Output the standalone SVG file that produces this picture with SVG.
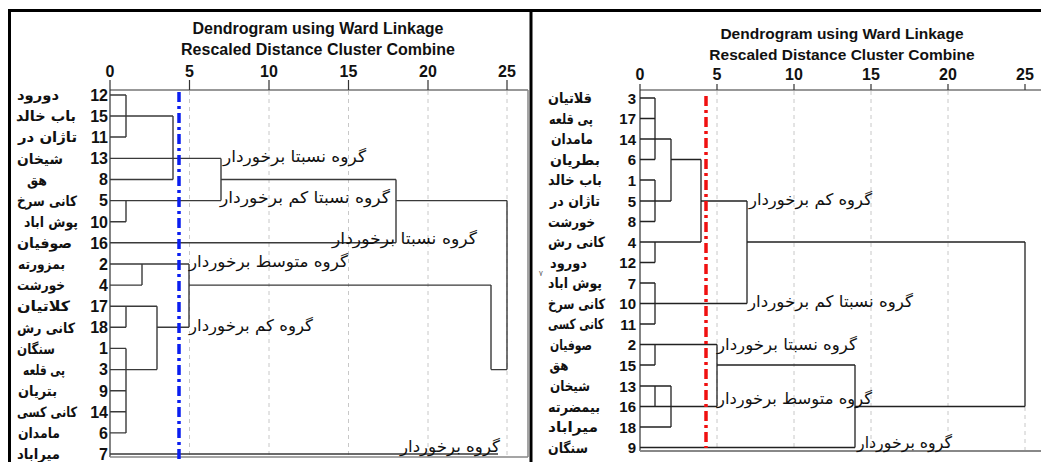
<svg xmlns="http://www.w3.org/2000/svg" width="1041" height="462" viewBox="0 0 1041 462">
<style>
.ttl{font-family:"Liberation Sans",Arial,sans-serif;font-weight:bold;font-size:16px;fill:#111;text-anchor:middle}
.ttr{font-family:"Liberation Sans",Arial,sans-serif;font-weight:bold;font-size:15.5px;fill:#111;text-anchor:middle}
.tick{font-family:"Liberation Sans",Arial,sans-serif;font-weight:bold;font-size:16px;fill:#111;text-anchor:middle}
.num{font-family:"Liberation Sans",Arial,sans-serif;font-weight:bold;font-size:16px;fill:#111;text-anchor:end}
.numr{font-family:"Liberation Sans",Arial,sans-serif;font-weight:bold;font-size:15px;fill:#111;text-anchor:end}
.nm{font-family:"DejaVu Sans",sans-serif;font-weight:bold;font-size:14px;fill:#111;text-anchor:middle}
.grp{font-family:"DejaVu Sans",sans-serif;font-size:16px;fill:#111;text-anchor:middle}
.frame{stroke:#000;stroke-width:3;fill:none}
.axis{stroke:#333;stroke-width:1.2;fill:none}
.pb{stroke:#888;stroke-width:1.5;fill:none}
.grid{stroke:#c8c8c8;stroke-width:1;stroke-dasharray:4 4;fill:none}
.dl{stroke:#3a3a3a;stroke-width:1.4;fill:none}
.dr{stroke:#222;stroke-width:1.3;fill:none}
</style>
<rect x="0" y="0" width="1041" height="462" fill="#fff"/>
<g id="frame">
<path class="frame" d="M8,10.5 H1041 M9.5,10 V462 M531,10 V462"/>
</g>
<g id="left-axes">
<text class="ttl" x="318" y="34">Dendrogram using Ward Linkage</text>
<text class="ttl" x="318" y="55">Rescaled Distance Cluster Combine</text>
<text class="tick" x="110" y="77">0</text>
<text class="tick" x="189.5" y="77">5</text>
<text class="tick" x="269" y="77">10</text>
<text class="tick" x="348.5" y="77">15</text>
<text class="tick" x="428" y="77">20</text>
<text class="tick" x="507" y="77">25</text>
<path class="grid" d="M189.5,91 V457 M269,91 V457 M348.5,91 V457 M428,91 V457 M507,91 V457"/>
<path class="axis" d="M110,90 H528 M110,80 V457 M189.5,80 V90 M269,80 V90 M348.5,80 V90 M428,80 V90 M507,80 V90"/>
<path class="pb" d="M528,90 V457 M110,457 H528"/>
</g>
<g id="left-rows">
<text class="num" x="108" y="100.5">12</text>
<text class="num" x="108" y="121.5">15</text>
<text class="num" x="108" y="142.5">11</text>
<text class="num" x="108" y="164">13</text>
<text class="num" x="108" y="185">8</text>
<text class="num" x="108" y="206">5</text>
<text class="num" x="108" y="227.5">10</text>
<text class="num" x="108" y="248.5">16</text>
<text class="num" x="108" y="269.5">2</text>
<text class="num" x="108" y="290.5">4</text>
<text class="num" x="108" y="311.5">17</text>
<text class="num" x="108" y="333">18</text>
<text class="num" x="108" y="354">1</text>
<text class="num" x="108" y="375">3</text>
<text class="num" x="108" y="396.5">9</text>
<text class="num" x="108" y="417.5">14</text>
<text class="num" x="108" y="438.5">6</text>
<text class="num" x="108" y="459.5">7</text>
<text class="nm" x="38" y="100" textLength="42" lengthAdjust="spacingAndGlyphs">دورود</text>
<text class="nm" x="46" y="121" textLength="60" lengthAdjust="spacingAndGlyphs">باب خالد</text>
<text class="nm" x="47.5" y="142" textLength="59" lengthAdjust="spacingAndGlyphs">تاژان در</text>
<text class="nm" x="40" y="163.5" textLength="46" lengthAdjust="spacingAndGlyphs">شیخان</text>
<text class="nm" x="37" y="184.5" textLength="20" lengthAdjust="spacingAndGlyphs">هق</text>
<text class="nm" x="47" y="205.5" textLength="60" lengthAdjust="spacingAndGlyphs">کانی سرخ</text>
<text class="nm" x="51" y="227" textLength="54" lengthAdjust="spacingAndGlyphs">پوش اباد</text>
<text class="nm" x="44.5" y="248" textLength="55" lengthAdjust="spacingAndGlyphs">صوفیان</text>
<text class="nm" x="41.5" y="269" textLength="47" lengthAdjust="spacingAndGlyphs">بمزورته</text>
<text class="nm" x="41" y="290" textLength="48" lengthAdjust="spacingAndGlyphs">خورشت</text>
<text class="nm" x="43.5" y="311" textLength="53" lengthAdjust="spacingAndGlyphs">کلاتیان</text>
<text class="nm" x="46" y="332.5" textLength="58" lengthAdjust="spacingAndGlyphs">کانی رش</text>
<text class="nm" x="36" y="353.5" textLength="38" lengthAdjust="spacingAndGlyphs">سنگان</text>
<text class="nm" x="44" y="374.5" textLength="42" lengthAdjust="spacingAndGlyphs">پی قلعه</text>
<text class="nm" x="37.5" y="396" textLength="39" lengthAdjust="spacingAndGlyphs">بتریان</text>
<text class="nm" x="47" y="417" textLength="60" lengthAdjust="spacingAndGlyphs">کانی کسی</text>
<text class="nm" x="39" y="438" textLength="42" lengthAdjust="spacingAndGlyphs">مامدان</text>
<text class="nm" x="38.5" y="459" textLength="43" lengthAdjust="spacingAndGlyphs">میراباد</text>
</g>
<g id="left-connectors">
<path class="dl" d="M110,95 H126 M110,116 H173 M110,137 H126 M126,95 V137 M173,116 V179.5 M110,158.4 H221 M110,179.5 H173 M221,179.5 H396 M221,158.4 V200.6 M110,200.6 H221 M396,200.6 H507 M126,200.6 V221.7 M110,221.7 H126 M110,242.8 H396 M396,179.5 V242.8 M507,200.6 V369.6 M110,264 H189 M110,285.1 H142 M189,285.1 H491 M142,264 V285.1 M189,264 V327.3 M491,285.1 V369.6 M491,369.6 H507 M110,306.2 H157 M126,306.2 V327.3 M110,327.3 H126 M157,327.3 H189 M157,306.2 V369.6 M110,348.4 H126 M110,369.6 H157 M110,390.7 H126 M110,411.8 H126 M110,432.9 H126 M126,348.4 V432.9 M110,454 H498"/>
<path d="M179,92 V462" stroke="#0a1ef0" stroke-width="3.5" stroke-dasharray="10 4 3 4" fill="none"/>
</g>
<g id="left-groups">
<text class="grp" x="294.5" y="162" textLength="143" lengthAdjust="spacingAndGlyphs">گروه نسبتا برخوردار</text>
<text class="grp" x="305" y="203" textLength="170" lengthAdjust="spacingAndGlyphs">گروه نسبتا کم برخوردار</text>
<text class="grp" x="404.5" y="244" textLength="145" lengthAdjust="spacingAndGlyphs">گروه نسبتا برخوردار</text>
<text class="grp" x="268.5" y="267" textLength="159" lengthAdjust="spacingAndGlyphs">گروه متوسط برخوردار</text>
<text class="grp" x="251" y="331" textLength="124" lengthAdjust="spacingAndGlyphs">گروه کم برخوردار</text>
<text class="grp" x="450" y="452" textLength="100" lengthAdjust="spacingAndGlyphs">گروه برخوردار</text>
</g>
<g id="right-axes">
<text class="ttr" x="842" y="39">Dendrogram using Ward Linkage</text>
<text class="ttr" x="842" y="60">Rescaled Distance Cluster Combine</text>
<text class="tick" x="640" y="80">0</text>
<text class="tick" x="717" y="80">5</text>
<text class="tick" x="794" y="80">10</text>
<text class="tick" x="871" y="80">15</text>
<text class="tick" x="948" y="80">20</text>
<text class="tick" x="1025" y="80">25</text>
<path class="grid" d="M717,91 V451 M794,91 V451 M871,91 V451 M948,91 V451 M1025,407 V451"/>
<path class="axis" d="M640,90 H1041 M640,84 V451 M717,84 V90 M794,84 V90 M871,84 V90 M948,84 V90 M1025,84 V90"/>
<path d="M640,451 H1041" stroke="#888" stroke-width="2" fill="none"/>
<text x="541" y="276" font-family="DejaVu Sans,sans-serif" font-size="8" fill="#666" text-anchor="middle">٧</text>
</g>
<g id="right-rows">
<text class="numr" x="636" y="103.5">3</text>
<text class="numr" x="636" y="124">17</text>
<text class="numr" x="636" y="144.5">14</text>
<text class="numr" x="636" y="165">6</text>
<text class="numr" x="636" y="185.5">1</text>
<text class="numr" x="636" y="206.5">5</text>
<text class="numr" x="636" y="227">8</text>
<text class="numr" x="636" y="247.5">4</text>
<text class="numr" x="636" y="268">12</text>
<text class="numr" x="636" y="288.5">7</text>
<text class="numr" x="636" y="309">10</text>
<text class="numr" x="636" y="329.5">11</text>
<text class="numr" x="636" y="350">2</text>
<text class="numr" x="636" y="370.5">15</text>
<text class="numr" x="636" y="391.5">13</text>
<text class="numr" x="636" y="412">16</text>
<text class="numr" x="636" y="432.5">18</text>
<text class="numr" x="636" y="453">9</text>
<text class="nm" x="570" y="103" textLength="44" lengthAdjust="spacingAndGlyphs">قلاتیان</text>
<text class="nm" x="571" y="123.5" textLength="44" lengthAdjust="spacingAndGlyphs">پی قلعه</text>
<text class="nm" x="572" y="144" textLength="42" lengthAdjust="spacingAndGlyphs">مامدان</text>
<text class="nm" x="575" y="164.5" textLength="50" lengthAdjust="spacingAndGlyphs">بطریان</text>
<text class="nm" x="575" y="185" textLength="54" lengthAdjust="spacingAndGlyphs">باب خالد</text>
<text class="nm" x="575" y="206" textLength="50" lengthAdjust="spacingAndGlyphs">تاژان در</text>
<text class="nm" x="571.5" y="226.5" textLength="47" lengthAdjust="spacingAndGlyphs">خورشت</text>
<text class="nm" x="576.5" y="247" textLength="57" lengthAdjust="spacingAndGlyphs">کانی رش</text>
<text class="nm" x="568.5" y="267.5" textLength="37" lengthAdjust="spacingAndGlyphs">دورود</text>
<text class="nm" x="575" y="288" textLength="54" lengthAdjust="spacingAndGlyphs">پوش اباد</text>
<text class="nm" x="576.5" y="308.5" textLength="57" lengthAdjust="spacingAndGlyphs">کانی سرخ</text>
<text class="nm" x="576" y="329" font-size="13" textLength="56" lengthAdjust="spacingAndGlyphs">کانی کسی</text>
<text class="nm" x="571" y="349.5" textLength="42" lengthAdjust="spacingAndGlyphs">صوفیان</text>
<text class="nm" x="559" y="370" textLength="19" lengthAdjust="spacingAndGlyphs">هق</text>
<text class="nm" x="570" y="391" textLength="40" lengthAdjust="spacingAndGlyphs">شیخان</text>
<text class="nm" x="574" y="411.5" textLength="52" lengthAdjust="spacingAndGlyphs">بیمضرته</text>
<text class="nm" x="573" y="432" textLength="50" lengthAdjust="spacingAndGlyphs">میراباد</text>
<text class="nm" x="568" y="452.5" textLength="40" lengthAdjust="spacingAndGlyphs">سنگان</text>
</g>
<g id="right-connectors">
<path class="dr" d="M640,98 H655 M640,118.5 H655 M640,159.5 H655 M655,98 V159.5 M640,139 H671 M671,139 V201 M671,159.5 H701 M701,159.5 V242 M640,180 H655 M640,221.5 H655 M655,180 V221.5 M640,201 H671 M701,201 H747 M640,242 H701 M747,242 H1025 M640,262.5 H655 M655,242 V262.5 M640,283 H655 M640,324 H655 M655,283 V324 M640,303.5 H747 M747,201 V303.5 M1025,242 V406.5 M640,344.5 H717 M655,344.5 V365 M640,365 H655 M717,365 H855 M717,344.5 V406.5 M640,386 H671 M655,386 V406.5 M640,406.5 H717 M855,406.5 H1025 M671,386 V427 M640,427 H671 M640,447.5 H855 M855,365 V447.5"/>
<path d="M706,96 V448" stroke="#f01010" stroke-width="3.5" stroke-dasharray="10 4 3 4" fill="none"/>
</g>
<g id="right-groups">
<text class="grp" x="810.5" y="205" textLength="123" lengthAdjust="spacingAndGlyphs">گروه کم برخوردار</text>
<text class="grp" x="830.5" y="307" textLength="165" lengthAdjust="spacingAndGlyphs">گروه نسبتا کم برخوردار</text>
<text class="grp" x="787" y="350" textLength="140" lengthAdjust="spacingAndGlyphs">گروه نسبتا برخوردار</text>
<text class="grp" x="794.5" y="404" textLength="155" lengthAdjust="spacingAndGlyphs">گروه متوسط برخوردار</text>
<text class="grp" x="904.5" y="448" textLength="95" lengthAdjust="spacingAndGlyphs">گروه برخوردار</text>
</g>
</svg>
